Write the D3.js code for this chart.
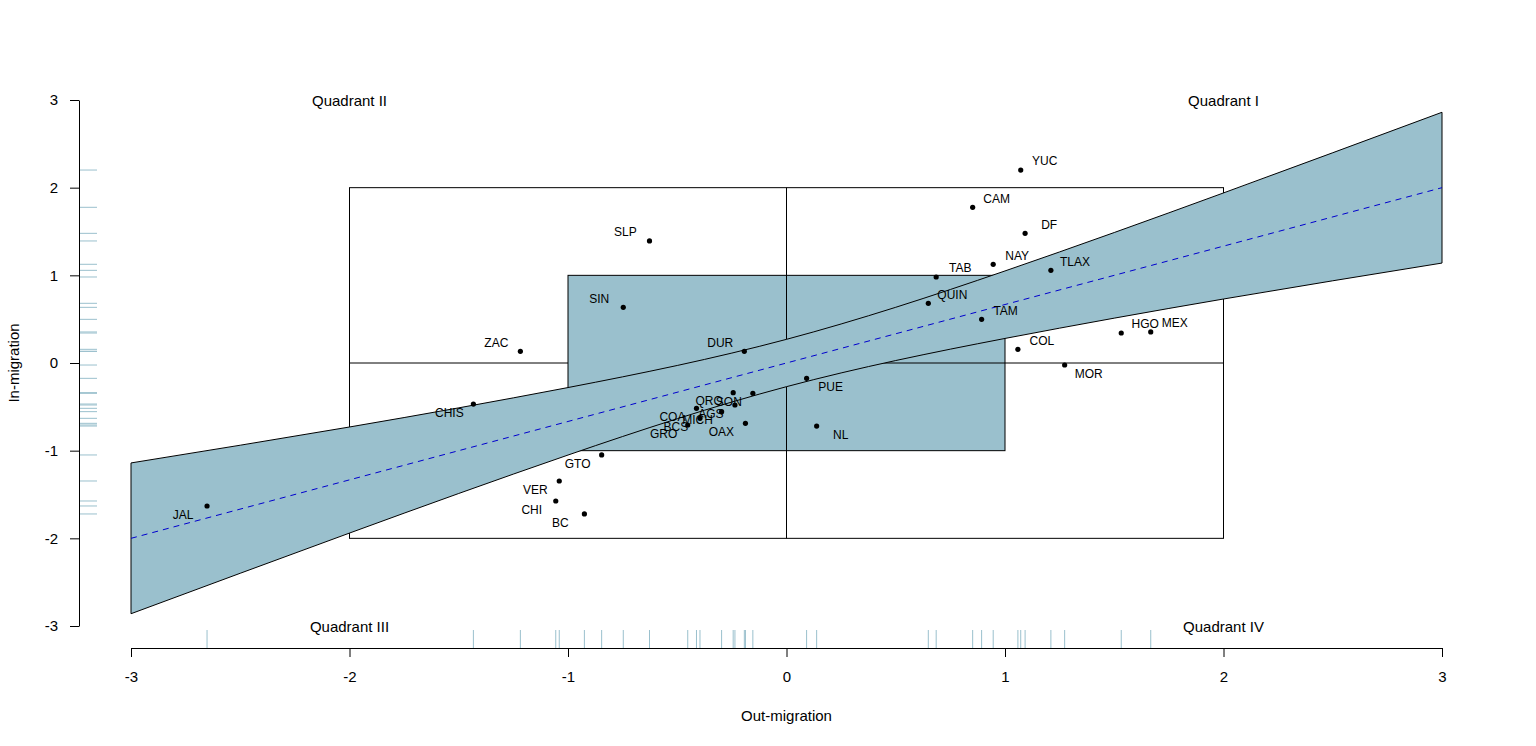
<!DOCTYPE html>
<html>
<head>
<meta charset="utf-8">
<script src="https://cdn.jsdelivr.net/npm/d3@7"></script>
<style>
  body { margin: 0; background: #fff; }
  svg { font-family: "Liberation Sans", Arial, sans-serif; }
</style>
</head>
<body>
<svg id="canvas" width="1536" height="746"></svg>
<script>
// state abbreviations and their standardized migration scores
let states = ["YUC", "CAM", "DF", "SLP", "NAY", "TLAX", "TAB", "QUIN", "SIN", "TAM", "HGO", "MEX",
    "COL", "DUR", "ZAC", "MOR", "PUE", "QRO", "SON", "AGS", "COA", "MICH", "BCS", "GRO",
    "OAX", "NL", "CHIS", "JAL", "GTO", "VER", "CHI", "BC"];
let outMigration = [1.072, 0.852, 1.092, -0.627, 0.946, 1.210, 0.685, 0.649, -0.747, 0.893, 1.532, 1.667,
    1.059, -0.193, -1.218, 1.273, 0.092, -0.244, -0.154, -0.236, -0.412, -0.297, -0.396, -0.452,
    -0.188, 0.138, -1.433, -2.652, -0.846, -1.040, -1.056, -0.925];
let inMigration = [2.201, 1.776, 1.479, 1.392, 1.126, 1.057, 0.981, 0.681, 0.635, 0.498, 0.342, 0.354,
    0.156, 0.133, 0.133, -0.023, -0.175, -0.338, -0.346, -0.479, -0.517, -0.555, -0.631, -0.707,
    -0.688, -0.719, -0.468, -1.631, -1.049, -1.346, -1.574, -1.722];

// fitted line and its band
let bandX = [-3, -2, -1, 0, 1, 2, 3];
let fitY = [-2, -1.333, -0.667, 0, 0.667, 1.333, 2];
let bandUpper = [-1.14, -0.73, -0.28, 0.27, 1.05, 1.94, 2.86];
let bandLower = [-2.86, -1.94, -1.05, -0.27, 0.28, 0.73, 1.14];

let axisTicks = [-3, -2, -1, 0, 1, 2, 3];
let quadrants = [
    {name: "Quadrant II", x: -2, y: 3},
    {name: "Quadrant I", x: 2, y: 3},
    {name: "Quadrant III", x: -2, y: -3},
    {name: "Quadrant IV", x: 2, y: -3}
];

let canvas = d3.select("#canvas");
let fillColor = "#9AC0CD";

let x = d3.scaleLinear().domain([-3, 3]).range([131, 1442]);
let y = d3.scaleLinear().domain([-3, 3]).range([626, 100]);

let points = states.map((s, i) => {
    return {name: s, x: outMigration[i], y: inMigration[i]};
});

// outer square with quadrant lines
canvas.append("rect")
    .attr("x", x(-2)).attr("y", y(2))
    .attr("width", x(2) - x(-2)).attr("height", y(-2) - y(2))
    .attr("fill", "#fff").attr("stroke", "#000");

canvas.append("line")
    .attr("x1", x(-2)).attr("x2", x(-1)).attr("y1", y(0)).attr("y2", y(0))
    .attr("stroke", "#000");

// inner square
canvas.append("rect")
    .attr("x", x(-1)).attr("y", y(1))
    .attr("width", x(1) - x(-1)).attr("height", y(-1) - y(1))
    .attr("fill", fillColor).attr("stroke", "#000");

canvas.append("line")
    .attr("x1", x(0)).attr("x2", x(0)).attr("y1", y(2)).attr("y2", y(-2))
    .attr("stroke", "#000");
canvas.append("line")
    .attr("x1", x(0)).attr("x2", x(2)).attr("y1", y(0)).attr("y2", y(0))
    .attr("stroke", "#000");

// band
let band = bandX.map((v, i) => {
    return {x: v, lo: bandLower[i], hi: bandUpper[i], fit: fitY[i]};
});

let area = d3.area()
    .x((d) => x(d.x))
    .y0((d) => y(d.lo))
    .y1((d) => y(d.hi))
    .curve(d3.curveNatural);

canvas.append("path")
    .datum(band)
    .attr("d", area)
    .attr("fill", fillColor)
    .attr("stroke", "#000")
    .attr("stroke-width", 1);

let fitLine = d3.line()
    .x((d) => x(d.x))
    .y((d) => y(d.fit));

canvas.append("path")
    .datum(band)
    .attr("d", fitLine)
    .attr("fill", "none")
    .attr("stroke", "#0000CD")
    .attr("stroke-width", 1)
    .attr("stroke-dasharray", "6,5");

// points and labels
canvas.selectAll(".pt")
    .data(points)
    .enter()
    .append("circle")
    .attr("class", "pt")
    .attr("cx", (d) => x(d.x))
    .attr("cy", (d) => y(d.y))
    .attr("r", 2.6)
    .attr("fill", "#000");

canvas.selectAll(".lbl")
    .data(points)
    .enter()
    .append("text")
    .attr("class", "lbl")
    .attr("x", (d) => x(d.x + (d.x > 0 ? 0.11 : -0.11)))
    .attr("y", (d) => y(d.y + (d.y > 0 ? 0.1 : -0.1)))
    .attr("text-anchor", "middle")
    .attr("dominant-baseline", "central")
    .attr("font-size", "12px")
    .attr("fill", "#000")
    .text((d) => d.name);

// rugs
canvas.selectAll(".rugx")
    .data(points)
    .enter()
    .append("line")
    .attr("class", "rugx")
    .attr("x1", (d) => x(d.x)).attr("x2", (d) => x(d.x))
    .attr("y1", 648).attr("y2", 630)
    .attr("stroke", fillColor)
    .attr("stroke-width", 1);

canvas.selectAll(".rugy")
    .data(points)
    .enter()
    .append("line")
    .attr("class", "rugy")
    .attr("y1", (d) => y(d.y)).attr("y2", (d) => y(d.y))
    .attr("x1", 79).attr("x2", 97)
    .attr("stroke", fillColor)
    .attr("stroke-width", 1);

// quadrant names
canvas.selectAll(".quad")
    .data(quadrants)
    .enter()
    .append("text")
    .attr("class", "quad")
    .attr("x", (d) => x(d.x))
    .attr("y", (d) => y(d.y))
    .attr("text-anchor", "middle")
    .attr("dominant-baseline", "central")
    .attr("font-size", "15px")
    .text((d) => d.name);

// axes
let xAxis = d3.axisBottom(x).tickValues(axisTicks).tickFormat((d) => String(d))
    .tickSize(9).tickSizeOuter(0).tickPadding(14);
let yAxis = d3.axisLeft(y).tickValues(axisTicks).tickFormat((d) => String(d))
    .tickSize(9).tickSizeOuter(0).tickPadding(12);

let gx = canvas.append("g")
    .attr("transform", "translate(0,648)")
    .call(xAxis);
let gy = canvas.append("g")
    .attr("transform", "translate(79,0)")
    .call(yAxis);

[gx, gy].forEach((g) => {
    g.selectAll("text").attr("font-size", "15px").attr("font-family", "Liberation Sans, Arial, sans-serif").attr("fill", "#000");
    g.selectAll("line").attr("stroke", "#000");
    g.select(".domain").attr("stroke", "#000");
});

canvas.append("text")
    .attr("x", x(0))
    .attr("y", 721)
    .attr("text-anchor", "middle")
    .attr("font-size", "15px")
    .text("Out-migration");

canvas.append("text")
    .attr("transform", "translate(19," + y(0) + ") rotate(-90)")
    .attr("text-anchor", "middle")
    .attr("font-size", "15px")
    .text("In-migration");
</script>
</body>
</html>
